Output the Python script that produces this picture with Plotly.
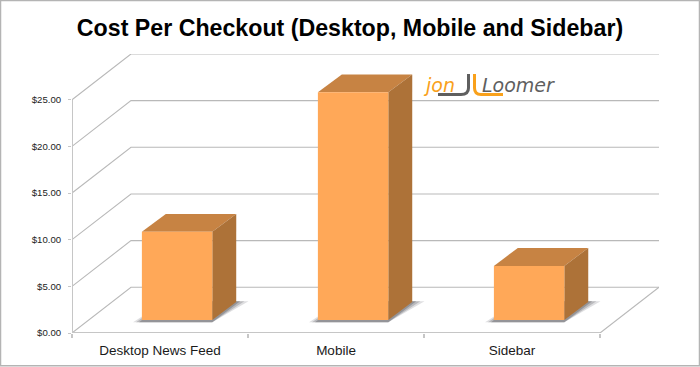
import plotly.graph_objects as go

categories = ["Desktop News Feed", "Mobile", "Sidebar"]
costs = [9.45, 24.4, 5.8]
y_ticks = [0, 5, 10, 15, 20, 25]
title = "Cost Per Checkout (Desktop, Mobile and Sidebar)"

# oblique projection of the pseudo-3D chart, in axis units
WALL_DX, WALL_DY = 0.335, 4.9
BAR_HALF, BAR_SHIFT, BAR_LIFT = 0.2, 0.097, 1.39
BAR_DX, BAR_DY = 0.136, 1.92
GRID = "#b9b9b9"
AXIS = "#c6c6c6"
FRONT, TOP, SIDE = "#ffa858", "#c78343", "#ad7238"

W, H = 700, 367
ML, MR, MT, MB = 72, 41, 54, 33.5
pw, ph = W - ML - MR, H - MT - MB
def px(x): return (x - ML) / pw
def py(y): return (H - MB - y) / ph

fig = go.Figure()
def poly(xs, ys, color):
    fig.add_trace(go.Scatter(x=xs + xs[:1], y=ys + ys[:1], mode="lines", fill="toself",
                             fillcolor=color, line=dict(width=0), hoverinfo="skip",
                             showlegend=False, cliponaxis=False))
def line(xs, ys, color, width):
    fig.add_trace(go.Scatter(x=xs, y=ys, mode="lines", line=dict(color=color, width=width),
                             hoverinfo="skip", showlegend=False, cliponaxis=False))

left, right = -0.5, len(categories) - 0.5
for v in y_ticks:
    line([left, left + WALL_DX, right + WALL_DX], [v, v + WALL_DY, v + WALL_DY], GRID, 1.1)
line([right, right + WALL_DX], [0, WALL_DY], GRID, 1.1)
line([left, left], [0, y_ticks[-1]], AXIS, 2)
line([left, right], [0, 0], AXIS, 2)

for i, v in enumerate(costs):
    x0, x1 = i + BAR_SHIFT - BAR_HALF, i + BAR_SHIFT + BAR_HALF
    b, t = BAR_LIFT, BAR_LIFT + v
    for grow, col in [(0.05, "rgba(150,150,155,0.3)"), (0.033, "rgba(130,130,135,0.4)"),
                      (0.016, "rgba(110,110,115,0.5)")]:
        poly([x0 - grow, x1, x1 + BAR_DX + grow * 1.4, x0 + BAR_DX],
             [b - 0.25, b - 0.25, b + BAR_DY + 0.1, b + BAR_DY + 0.1], col)
    poly([x0, x1, x1 + BAR_DX, x0 + BAR_DX], [t, t, t + BAR_DY, t + BAR_DY], TOP)
    poly([x1, x1 + BAR_DX, x1 + BAR_DX, x1], [b, b + BAR_DY, t + BAR_DY, t], SIDE)
    poly([x0, x1, x1, x0], [b, b, t, t], FRONT)

boundaries = [k - 0.5 for k in range(len(categories) + 1)]
fig.update_layout(
    width=W, height=H, autosize=False,
    margin=dict(l=ML, r=MR, t=MT, b=MB, pad=0),
    paper_bgcolor="white", plot_bgcolor="white", showlegend=False,
    font=dict(family="Liberation Sans", color="#222222"),
    title=dict(text=f"<b>{title}</b>", x=0.5, xanchor="center", y=1 - 28 / H, yanchor="middle",
               font=dict(size=23.2, color="#000000", family="Liberation Sans")),
    xaxis=dict(automargin=False, range=[left, right + WALL_DX], tickmode="array",
               tickvals=list(range(len(categories))),
               ticktext=categories, ticks="", showgrid=False, zeroline=False, showline=False,
               tickfont=dict(size=13.5, color="#1a1a1a"), ticklabelstandoff=7,
               minor=dict(tickmode="array", tickvals=boundaries, ticks="outside", ticklen=4,
                          tickcolor=AXIS, tickwidth=1.5, showgrid=False)),
    yaxis=dict(automargin=False, range=[0, y_ticks[-1] + WALL_DY], tickmode="array", tickvals=y_ticks,
               tickformat="$.2f",
               ticks="outside", ticklen=3, tickcolor=AXIS, showgrid=False, zeroline=False, showline=False,
               tickfont=dict(size=9.6, color="#222222"), ticklabelstandoff=5),
    shapes=[
        dict(type="rect", xref="paper", yref="paper", x0=px(0.5), x1=px(W - 0.5), y0=py(H - 0.75), y1=py(0.5),
             line=dict(color="#b4b4b4", width=1.5), fillcolor="rgba(0,0,0,0)", layer="above"),
        dict(type="path", xref="paper", yref="paper",
             path=f"M {px(468.5)} {py(74)} L {px(468.5)} {py(88)} Q {px(468.5)} {py(94.5)} {px(461)} {py(94.5)} L {px(438)} {py(94.5)}",
             line=dict(color="#5f5f5f", width=3), layer="above"),
        dict(type="path", xref="paper", yref="paper",
             path=f"M {px(474.5)} {py(74)} L {px(474.5)} {py(88)} Q {px(474.5)} {py(94.5)} {px(481)} {py(94.5)} L {px(503)} {py(94.5)}",
             line=dict(color="#f9a11b", width=3), layer="above"),
    ],
    annotations=[
        dict(text="jon", xref="paper", yref="paper", x=px(421), y=py(85.5), xanchor="left", yanchor="middle",
             showarrow=False, font=dict(family="DejaVu Sans", size=19, color="#f9a11b", style="italic")),
        dict(text="Loomer", xref="paper", yref="paper", x=px(480), y=py(85.5), xanchor="left", yanchor="middle",
             showarrow=False, font=dict(family="DejaVu Sans", size=19, color="#5f5f5f", style="italic")),
    ],
)
fig.write_html("out.html", post_script="document.body.style.margin='0';document.body.style.overflow='hidden';",
               config={"displayModeBar": False})
